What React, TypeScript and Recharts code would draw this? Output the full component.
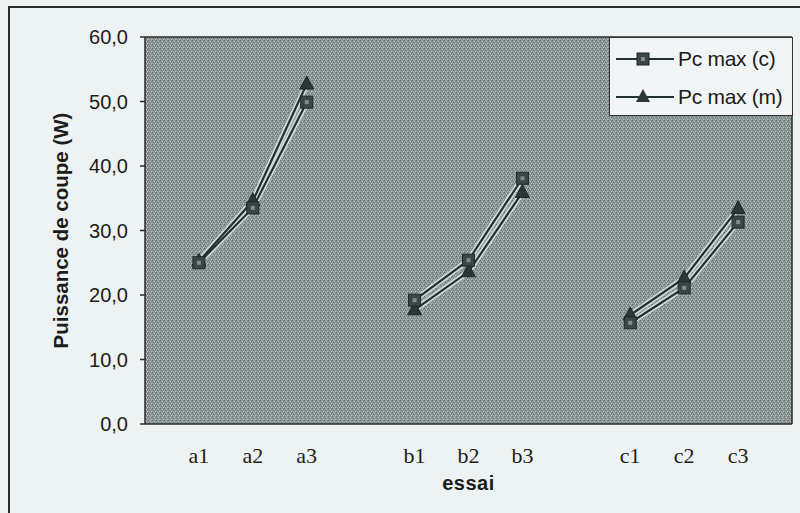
import React from 'react';
import { LineChart, Line, XAxis, YAxis, CartesianGrid, Legend } from 'recharts';

// ---- data ----
const categories = ['a1', 'a2', 'a3', 'b1', 'b2', 'b3', 'c1', 'c2', 'c3'];
const groupSize = 3;
const pcMaxC = [25.0, 33.5, 49.9, 19.2, 25.4, 38.1, 15.7, 21.1, 31.3];
const pcMaxM = [25.2, 34.6, 52.7, 17.7, 23.6, 35.9, 16.9, 22.6, 33.4];
const yTicks = [0, 10, 20, 30, 40, 50, 60];
const seriesNames = ['Pc max (c)', 'Pc max (m)'];

// table with an empty slot before and after each group (as in the original sheet)
const rows: any[] = [{ label: '' }];
categories.forEach((label, i) => {
  rows.push({ label, c: pcMaxC[i], m: pcMaxM[i] });
  if ((i + 1) % groupSize === 0) rows.push({ label: '' });
});
rows.forEach((r, i) => (r.slot = i));
const slotTicks = rows.filter((r) => r.label !== '').map((r) => r.slot);

const DARK = '#243030';
const HALO = '#d2dada';

const SquareDot = (props: any) => {
  const { cx, cy, index } = props;
  if (cx == null || cy == null || isNaN(cy)) return <g key={'s' + index} />;
  return (
    <g key={'s' + index}>
      <rect x={cx - 6} y={cy - 6} width={12} height={12} fill="#3a4746" stroke="#1f2828" strokeWidth={1} />
      <rect x={cx - 2} y={cy - 2} width={4} height={4} fill="#7d8b8a" />
    </g>
  );
};

const TriangleDot = (props: any) => {
  const { cx, cy, index } = props;
  if (cx == null || cy == null || isNaN(cy)) return <g key={'t' + index} />;
  return (
    <path
      key={'t' + index}
      d={`M${cx},${cy - 8} L${cx + 7},${cy + 5} L${cx - 7},${cy + 5} Z`}
      fill="#2b3636"
      stroke="#1f2828"
      strokeWidth={1}
    />
  );
};

const LegendContent = () => (
  <div
    style={{
      width: 182,
      height: 77,
      border: '1.5px solid #333',
      background: '#f2f5f5',
      fontFamily: '"Liberation Sans", Arial, sans-serif',
      fontSize: 21,
      color: '#1c1c1c',
      boxSizing: 'content-box',
    }}
  >
    {seriesNames.map((name, i) => (
      <div key={name} style={{ display: 'flex', alignItems: 'center', height: 38, marginTop: i === 0 ? 2 : 0 }}>
        <svg width={66} height={20} style={{ marginLeft: 6 }}>
          <line x1={0} y1={10} x2={58} y2={10} stroke={DARK} strokeWidth={2} />
          {i === 0 ? (
            <g>
              <rect x={21} y={4} width={12} height={12} fill="#3a4746" stroke="#1f2828" />
              <rect x={25} y={8} width={4} height={4} fill="#7d8b8a" />
            </g>
          ) : (
            <path d="M27,2 L34,15 L20,15 Z" fill="#2b3636" />
          )}
        </svg>
        <span style={{ letterSpacing: -0.3, marginLeft: -4 }}>{name}</span>
      </div>
    ))}
  </div>
);

export default function App() {
  return (
    <div
      style={{
        position: 'fixed',
        left: 0,
        top: 0,
        width: 800,
        height: 513,
        overflow: 'hidden',
        background: '#edf2f2',
      }}
    >
      <div
        style={{
          position: 'absolute',
          left: 8,
          top: 6,
          width: 820,
          height: 540,
          borderLeft: '2px solid #2a2a2a',
          borderTop: '2px solid #2a2a2a',
        }}
      />
      <div style={{ position: 'absolute', left: 0, top: 0 }}>
        <LineChart width={800} height={513} data={rows} margin={{ top: 37, right: 8, left: 0, bottom: 0 }}>
          <defs>
            <pattern id="stipple" width="4" height="4" patternUnits="userSpaceOnUse">
              <rect x="0" y="0" width="4" height="4" fill="#8f9b9b" />
              <rect x="0" y="0" width="1" height="1" fill="#5f6b6b" />
              <rect x="2" y="1" width="1" height="1" fill="#bcc6c6" />
              <rect x="1" y="2" width="1" height="1" fill="#667272" />
              <rect x="3" y="3" width="1" height="1" fill="#b8c2c2" />
              <rect x="3" y="1" width="1" height="1" fill="#6e7a7a" />
              <rect x="1" y="3" width="1" height="1" fill="#aab4b4" />
              <rect x="2" y="3" width="1" height="1" fill="#717d7d" />
            </pattern>
          </defs>
          <CartesianGrid
            fill="url(#stipple)"
            stroke="#2a2a2a"
            strokeWidth={1.5}
            horizontalCoordinatesGenerator={({ offset }: any) => [offset.top]}
            verticalCoordinatesGenerator={({ offset }: any) => [offset.left + offset.width]}
          />
          <XAxis
            dataKey="slot"
            type="number"
            domain={[0, rows.length - 1]}
            ticks={slotTicks}
            interval={0}
            height={89}
            tickLine={false}
            tickMargin={17}
            tickFormatter={(v: number) => rows[v]?.label ?? ''}
            axisLine={{ stroke: '#2a2a2a', strokeWidth: 1.5 }}
            tick={{ fill: '#1c1c1c', fontSize: 22, fontFamily: '"Liberation Serif", "Times New Roman", serif' }}
            label={{
              value: 'essai',
              position: 'insideBottom',
              offset: 23,
              style: { fontFamily: '"Liberation Sans", Arial, sans-serif', fontSize: 20, fontWeight: 'bold', fill: '#1c1c1c', letterSpacing: 0.5 },
            }}
          />
          <YAxis
            width={145}
            domain={[0, 60]}
            ticks={yTicks}
            interval={0}
            tickSize={5}
            tickMargin={12}
            tickFormatter={(v: number) => v.toFixed(1).replace('.', ',')}
            axisLine={{ stroke: '#2a2a2a', strokeWidth: 1.5 }}
            tickLine={{ stroke: '#2a2a2a', strokeWidth: 1.5 }}
            tick={{ fill: '#1c1c1c', fontSize: 20, fontFamily: '"Liberation Sans", Arial, sans-serif' }}
            label={{
              value: 'Puissance de coupe (W)',
              angle: -90,
              position: 'insideLeft',
              offset: 61,
              style: { textAnchor: 'middle', fontFamily: '"Liberation Sans", Arial, sans-serif', fontSize: 20.5, fontWeight: 'bold', fill: '#1c1c1c' },
            }}
          />
          <Line dataKey="m" stroke={HALO} strokeWidth={5.5} dot={false} activeDot={false} legendType="none" isAnimationActive={false} />
          <Line dataKey="c" stroke={HALO} strokeWidth={5.5} dot={false} activeDot={false} legendType="none" isAnimationActive={false} />
          <Line dataKey="m" name={seriesNames[1]} stroke={DARK} strokeWidth={2.2} dot={TriangleDot} activeDot={false} isAnimationActive={false} />
          <Line dataKey="c" name={seriesNames[0]} stroke={DARK} strokeWidth={2.2} dot={SquareDot} activeDot={false} isAnimationActive={false} />
          <Legend
            layout="horizontal"
            verticalAlign="middle"
            align="center"
            content={<LegendContent />}
            wrapperStyle={{ position: 'absolute', left: 609, top: 37, width: 185, height: 80 }}
          />
        </LineChart>
      </div>
    </div>
  );
}
